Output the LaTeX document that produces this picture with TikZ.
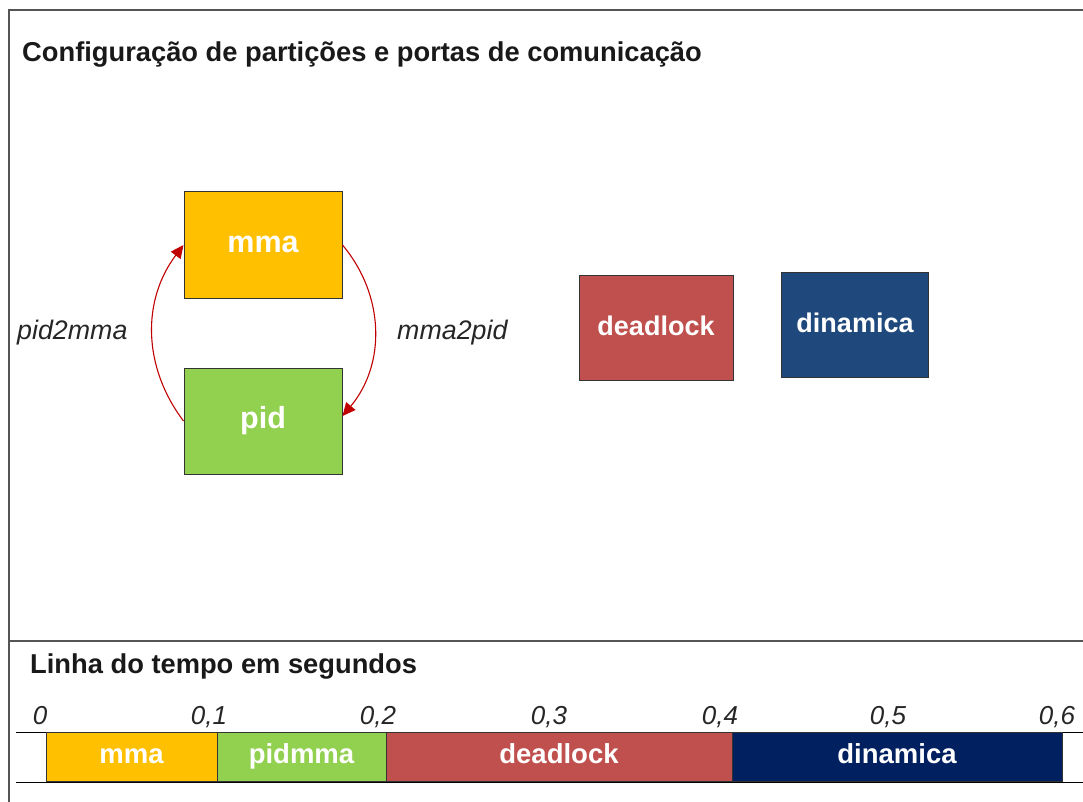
\documentclass[tikz,border=0pt]{standalone}
\usepackage{fontspec}
\setmainfont{Liberation Sans}
\usepackage{tikz}
\usetikzlibrary{positioning, arrows.meta, calc}
\definecolor{partorange}{HTML}{FFC000}
\definecolor{partgreen}{HTML}{92D050}
\definecolor{partred}{HTML}{C0504D}
\definecolor{partblue}{HTML}{1F497D}
\definecolor{partnavy}{HTML}{002060}
\definecolor{portred}{HTML}{C00000}
\definecolor{framegray}{HTML}{555555}

\begin{document}
\begin{tikzpicture}[x=1pt, y=-1pt]
			\tikzstyle{part}=[rectangle, draw=black!80, line width=1pt, minimum width=158pt, minimum height=106pt, text=white, font=\fontsize{27}{32}\selectfont\bfseries, inner sep=0pt, text height=20pt, text depth=6pt]
			\tikzstyle{slot}=[rectangle, draw=black!80, line width=1pt, minimum height=49pt, text=white, font=\fontsize{27.5}{30}\selectfont\bfseries, inner sep=0pt, text height=18pt, text depth=6pt]
			\tikzstyle{port}=[draw=portred, line width=1.1pt, -{Triangle[length=13pt, width=12pt]}]
			\tikzstyle{heading}=[anchor=base west, inner sep=0pt, text=black!90, font=\fontsize{27.3}{30}\selectfont\bfseries]
			\tikzstyle{portlabel}=[anchor=base west, inner sep=0pt, text=black!85, font=\fontsize{26.8}{30}\selectfont\itshape]
			\tikzstyle{tick}=[anchor=base, inner sep=0pt, text=black!85, font=\fontsize{26}{30}\selectfont\itshape]
			%%
			\useasboundingbox (0,0) rectangle (1083,802);
			
			%% frame
			\draw [framegray, line width=1.5pt] (1083,10) -- (9,10) -- (9,802);
			\draw [framegray, line width=1.5pt] (9,641) -- (1083,641);
			
			\node (title) at (22,62) [heading] {Configuração de partições e portas de comunicação};
			
			%% partitions
			\node (mma) at (263,245) [part, fill=partorange, font=\fontsize{30.5}{34}\selectfont\bfseries] {mma};
			\node (pid) at (263,421) [part, fill=partgreen, font=\fontsize{30.5}{34}\selectfont\bfseries] {pid};
			\node (deadlock) at (656,328) [part, fill=partred, minimum width=154pt, minimum height=105pt] {deadlock};
			\node (dinamica) at (855,325) [part, fill=partblue, minimum width=147pt, minimum height=105pt] {dinamica};
			
			\draw [port] (pid.west) to [bend left=37] (mma.west);
			\draw [port] (mma.east) to [bend left=40] ($(pid.east)+(0,-5)$);
			
			\node (l12) at (17,339) [portlabel] {pid2mma};
			\node (l21) at (397,339) [portlabel] {mma2pid};
			
			%% timeline
			\node (timeline) at (30,673) [heading] {Linha do tempo em segundos};
			
			\coordinate (tl1) at (16,732);
			\coordinate (tr1) at (1083,732);
			\coordinate (tl2) at (16,782);
			\coordinate (tr2) at (1083,782);
			\draw [black, line width=1pt] (tl1) -- (tr1);
			\draw [black, line width=1pt] (tl2) -- (tr2);
			
			\node (s1) at (131.5,757) [slot, fill=partorange, minimum width=171pt] {mma};
			\node (s2) at (301.5,757) [slot, fill=partgreen, minimum width=169pt] {pidmma};
			\node (s3) at (559,757) [slot, fill=partred, minimum width=346pt] {deadlock};
			\node (s4) at (897,757) [slot, fill=partnavy, minimum width=330pt] {dinamica};
			
			\node (t0) at (40,724) [tick] {0};
			\node (t1) at (209,724) [tick] {0,1};
			\node (t2) at (378,724) [tick] {0,2};
			\node (t3) at (549,724) [tick] {0,3};
			\node (t4) at (720,724) [tick] {0,4};
			\node (t5) at (888,724) [tick] {0,5};
			\node (t6) at (1057,724) [tick] {0,6};
\end{tikzpicture}
\end{document}
